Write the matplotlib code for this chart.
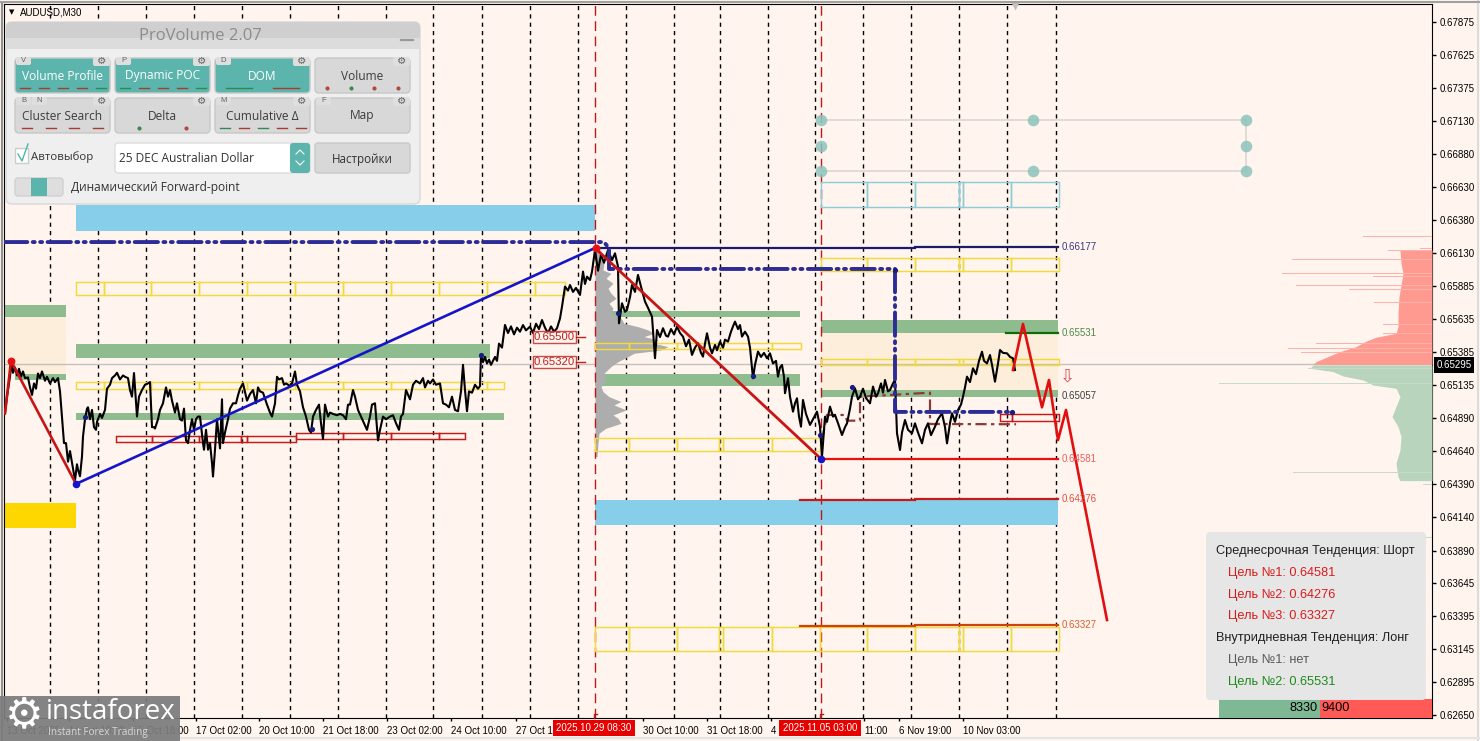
import matplotlib
matplotlib.use("Agg")
import matplotlib.pyplot as plt
from matplotlib.patches import Rectangle, FancyBboxPatch

BG = "#fff5ee"
W, H = 1480, 741

# ---- axis values
price_ticks = [0.67875, 0.67625, 0.67375, 0.67130, 0.66880, 0.66630, 0.66380, 0.66130, 0.65885, 0.65635, 0.65385,
               0.65135, 0.64890, 0.64640, 0.64390, 0.64140, 0.63890, 0.63645, 0.63395, 0.63145, 0.62895, 0.62650]
grid_x = [50, 98, 146, 194, 242, 290, 338, 386, 433, 482, 530, 578, 626, 674, 720, 768, 815, 863, 911, 959, 1007, 1056]
time_x = [7, 69, 133, 196, 259, 323, 387, 451, 516, 643, 707, 771, 864, 899, 963]
time_labels = ["13 Oct 2025", "14 Oct 10:00", "15 Oct 18:00", "17 Oct 02:00", "20 Oct 10:00", "21 Oct 18:00",
               "23 Oct 02:00", "24 Oct 10:00", "27 Oct 18:00", "30 Oct 10:00", "31 Oct 18:00", "4", "11:00",
               "6 Nov 19:00", "10 Nov 03:00"]
last_price = 0.65295

# ---- price line
line_x = [5, 7, 10, 11.5, 13, 15, 17, 19, 21, 23, 25, 28, 30, 32, 34, 36, 38, 40, 42, 45, 47, 50, 53, 55, 58, 60, 62,
          64, 66, 68, 70, 72, 75, 77, 78, 80, 82, 83, 85, 87, 88, 90, 92, 94, 96, 97, 100, 102, 105, 107, 110, 112,
          115, 117, 120, 123, 125, 128, 130, 132, 134, 137, 139, 142, 145, 148, 150, 152, 154, 155, 158, 160, 163,
          166, 168, 170, 172, 175, 177, 180, 182, 184, 186, 188, 190, 192, 194, 196, 198, 200, 203, 204, 206, 208,
          210, 212, 213, 215, 217, 220, 222, 223, 225, 228, 230, 233, 236, 238, 240, 243, 247, 250, 253, 256, 258,
          260, 263, 267, 270, 272, 275, 277, 279, 282, 284, 286, 290, 292, 295, 297, 300, 303, 306, 309, 311, 313,
          316, 319, 321, 323, 325, 328, 330, 333, 337, 340, 343, 346, 348, 350, 353, 355, 358, 361, 364, 367, 370,
          372, 375, 378, 380, 383, 386, 390, 393, 396, 399, 401, 403, 406, 410, 413, 416, 420, 423, 425, 428, 430,
          433, 436, 440, 443, 446, 449, 452, 455, 458, 461, 463, 465, 467, 469, 472, 475, 478, 480, 481, 483, 485,
          487, 489, 491, 493, 495, 497, 499, 502, 505, 508, 511, 514, 517, 520, 523, 526, 530, 533, 536, 539, 542,
          545, 548, 551, 554, 557, 560, 562, 565, 568, 570, 573, 576, 580, 583, 585, 587, 590, 592, 595, 598, 601,
          604, 608, 612, 615, 618, 619, 622, 625, 627, 630, 632, 635, 638, 641, 645, 648, 652, 655, 657, 660, 663,
          666, 668, 671, 674, 677, 680, 683, 686, 689, 692, 695, 698, 701, 703, 705, 707, 710, 712, 715, 717, 720,
          723, 725, 728, 731, 733, 735, 738, 740, 742, 745, 748, 750, 753, 755, 758, 761, 764, 767, 770, 773, 776,
          778, 780, 782, 784, 785, 787, 788, 790, 793, 795, 797, 799, 801, 803, 806, 810, 813, 817, 820, 822, 825,
          827, 830, 833, 835, 838, 842, 845, 847, 850, 852, 855, 858, 860, 863, 866, 870, 873, 876, 878, 881, 883,
          885, 888, 890, 893, 895, 897, 900, 902, 905, 908, 912, 915, 918, 922, 925, 928, 931, 935, 938, 942, 945,
          947, 950, 952, 955, 958, 961, 963, 965, 967, 970, 973, 976, 979, 982, 984, 987, 990, 992, 995, 998, 1000,
          1003, 1007, 1010, 1013, 1015]
line_p = [.64925, .65051, .65202, .65315, .65230, .65270, .65210, .65260, .65200, .65240, .65190, .65195, .65120, .65063,
          .65150, .65110, .65225, .65190, .65240, .65170, .65200, .65150, .65190, .65160, .65190, .65090, .64900,
          .64700, .64700, .64560, .64640, .64550, .64420, .64540, .64500, .64450, .64600, .64750, .64880, .64960,
          .64970, .64880, .64950, .64820, .64800, .64860, .64920, .64890, .64950, .65110, .65140, .65190, .65210,
          .65230, .65180, .65210, .65200, .65190, .65100, .65050, .65228, .64900, .65050, .65100, .65140, .65150,
          .65160, .64820, .64820, .64810, .64880, .64950, .65000, .65120, .65050, .65100, .65020, .64930, .65000,
          .64880, .64870, .64960, .64720, .64700, .64800, .64880, .64800, .64880, .64900, .64900, .64700, .64650,
          .64800, .64650, .64700, .64550, .64448, .64650, .64880, .64660, .65030, .64700, .64780, .64880, .64960,
          .65000, .65000, .65060, .65110, .65150, .65020, .65070, .65100, .65000, .65120, .65090, .65080, .64990,
          .64930, .64900, .65000, .65200, .65180, .65190, .65140, .65150, .65130, .65150, .65240, .65140, .65090,
          .64970, .64900, .64800, .64780, .64900, .64950, .64990, .64850, .64730, .64990, .64900, .64930, .64920,
          .64910, .64920, .64910, .64880, .64990, .64990, .65100, .65050, .64950, .64900, .64850, .64800, .64900,
          .64990, .65000, .64720, .64800, .64900, .64880, .64900, .64910, .64850, .64800, .64900, .64920, .65100,
          .65030, .65140, .65170, .65150, .65190, .65120, .65170, .65150, .65180, .65140, .65150, .65000, .64990,
          .64970, .65050, .64950, .64940, .65090, .65290, .65100, .64940, .65090, .65080, .65140, .65110, .65130,
          .65365, .65310, .65350, .65300, .65330, .65290, .65320, .65350, .65320, .65450, .65420, .65591, .65530,
          .65580, .65520, .65570, .65540, .65590, .65550, .65578, .65530, .65600, .65560, .65628, .65570,
          .65528, .65580, .65540, .65566, .65640, .65729, .65880, .65850, .65892, .65840, .65870, .65817, .65993,
          .65900, .65955, .65930, .65993, .66156, .66000, .66120, .66060, .66156, .66080, .66131, .66031, .65603,
          .65754, .65690, .65704, .65800, .65892, .65840, .65968, .65880, .65767, .65720, .65654, .65340, .65553,
          .65500, .65566, .65510, .65503, .65560, .65520, .65578, .65530, .65503, .65430, .65480, .65365, .65420,
          .65453, .65380, .65352, .65450, .65528, .65420, .65377, .65440, .65400, .65465, .65420, .65480, .65465,
          .65540, .65580, .65616, .65560, .65590, .65503, .65540, .65503, .65420, .65189, .65290, .65390, .65350,
          .65380, .65340, .65377, .65300, .65320, .65201, .65270, .65289, .65200, .65076, .65150, .65189, .65050,
          .64937, .65000, .65038, .64900, .64824, .65025, .64920, .64837, .64880, .64937, .64824, .64598, .64899,
          .64860, .64975, .64900, .64912, .64850, .64761, .64820, .64849, .64960, .65050, .65113, .65030, .65050,
          .65110, .65040, .65000, .65126, .65050, .65075, .65150, .65080, .65176, .65090, .65100, .65150, .65176,
          .64774, .64648, .64780, .64874, .64800, .64774, .64849, .64780, .64698, .64800, .64849, .64760, .64824,
          .64880, .64925, .64820, .64698, .64850, .64925, .64860, .64950, .64990, .65050, .65120, .65201, .65160,
          .65264, .65220, .65320, .65389, .65320, .65301, .65364, .65290, .65163, .65300, .65402, .65380, .65377,
          .65350, .65339, .65251]

dot_x = [85, 312, 481, 618, 753, 820, 852, 1012, 895]
dot_p = [.64899, .64808, .65365, .65681, .65205, .64761, .65123, .64935, .66005]

# ---- zones (x from, x to, low, high)
blue_zones = [(76, 595, .66299, .66495), (595, 1058, .64083, .64271)]
green_zones = [(4, 66, .65651, .65741), (15, 66, .65176, .65221), (76, 490, .65342, .65447), (76, 504, .64874, .64927),
               (595, 800, .65651, .65696), (595, 800, .65131, .65221), (821, 1058, .65530, .65628),
               (821, 1058, .65048, .65100)]
beige_zones = [(4, 66, .65221, .65651), (821, 1058, .65100, .65530)]
gold_zones = [(4, 76, .64060, .64248)]

# ---- box rows
yellow_rows = [([76, 104, 151, 199, 247, 295, 343, 391, 439, 487, 535, 565], .65817, .65915),
               ([76, 104, 151, 199, 241, 247, 295, 343, 391, 439, 487, 504], .65108, .65161),
               ([595, 629, 677, 719, 723, 772, 801], .65410, .65455),
               ([595, 629, 677, 719, 723, 772, 820], .64641, .64739),
               ([821, 867, 915, 959, 963, 1011, 1059], .65998, .66096),
               ([821, 867, 915, 959, 963, 1011, 1059], .65289, .65334),
               ([595, 629, 677, 719, 723, 772, 820, 867, 915, 959, 963, 1011, 1059], .63133, .63314)]
red_rows = [([116, 152, 199, 241, 247, 296], .64708, .64754),
            ([296, 343, 391, 439, 465], .64731, .64776),
            ([1000, 1012, 1059], .64867, .64920)]
cyan_rows = [([821, 867, 915, 959, 963, 1011, 1059], .66480, .66669)]

# ---- wave lines
wave1_x, wave1_p = [5, 11, 76], [.64925, .65319, .64392]
wave2_x, wave2_p = [76, 595], [.64392, .66171]
wave3_x, wave3_p = [595, 821], [.66171, .64581]
forecast_x = [1013, 1023, 1042, 1049, 1058, 1066, 1107]
forecast_p = [.65251, .65598, .64970, .65176, .64723, .64950, .63366]
poc_x = [4, 604, 609, 609, 895, 895, 1012]
poc_p = [.66216, .66216, .66170, .66013, .66013, .64935, .64935]
dom_x = [822, 827, 845, 847, 860, 860, 930, 930, 1016]
dom_p = [.64724, .64912, .64912, .64869, .64869, .65050, .65080, .64844, .64842]

levels = [(595, 915, .66170, "#1a1a6e"), (915, 1058, .66177, "#1a1a6e"), (1006, 1058, .65531, "#0b6e0b"),
          (821, 1058, .64581, "#e81010"), (800, 915, .64270, "#c81818"), (915, 1058, .64276, "#c81818"),
          (800, 915, .63320, "#d04010"), (915, 1058, .63327, "#d04010")]
level_text = [(1062, .66177, "0.66177", "#3a3a80"), (1062, .65531, "0.65531", "#4a8a4a"),
              (1062, .65057, "0.65057", "#404040"), (1062, .64581, "0.64581", "#e86060"),
              (1062, .64276, "0.64276", "#e05040"), (1062, .63327, "0.63327", "#d86030")]

handle_x = [821, 821, 821, 1033, 1033, 1246, 1246, 1246]
handle_p = [.67136, .66944, .66752, .67136, .66752, .67136, .66944, .66752]

# ---- session profile next to 29 Oct
prof_p = [.66156, .66106, .66056, .66005, .65980, .65943, .65905, .65867, .65830, .65792, .65754, .65716, .65679,
          .65641, .65603, .65578, .65553, .65528, .65503, .65478, .65453, .65427, .65402, .65377, .65352, .65314,
          .65277, .65226, .65176, .65126, .65088, .65050, .65013, .64988, .64950, .64912, .64887, .64849, .64812,
          .64774, .64699, .64598]
prof_v = [6, 4, 9, 8, 16, 11, 18, 13, 16, 21, 14, 18, 16, 26, 29, 43, 53, 59, 49, 63, 59, 73, 66, 39, 33, 23, 16, 9,
          11, 6, 8, 14, 26, 19, 31, 18, 23, 26, 11, 4, 3, 2]

# ---- right hand profile
sell_p = [.66156, .66056, .65980, .65892, .65804, .65679, .65578, .65528, .65498, .65465, .65427, .65390, .65352,
          .65314, .65294]
sell_v = [32, 31, 29, 31, 33, 34, 34, 36, 56, 67, 76, 92, 104, 116, 119]
sell_spike_p = [.66257, .66169, .66149, .66081, .65980, .65955, .65885, .65855, .65762, .65711, .65628, .65591,
                .65553, .65528, .65453, .65415, .65382]
sell_spike_v = [69, 12, 44, 140, 150, 59, 136, 83, 58, 44, 42, 49, 187, 49, 116, 144, 131]
buy_p = [.65289, .65264, .65239, .65206, .65176, .65138, .65113, .65050, .64975, .64900, .64824, .64749, .64648,
         .64548, .64447, .64417]
buy_v = [119, 122, 99, 89, 69, 59, 36, 32, 36, 40, 34, 31, 32, 36, 34, 32]
buy_spike_p = [.65264, .65206, .65151, .65025, .64480, .64385, .63985, .63871, .63087]
buy_spike_v = [124, 133, 213, 48, 139, 9, 200, 12, 8]

buy_total, sell_total = 8330, 9400

# ---- figure
fig = plt.figure(figsize=(W / 100, H / 100), dpi=100, facecolor=BG)
plt.rcParams["font.family"] = ["Liberation Sans", "DejaVu Sans"]

ax = fig.add_axes([4 / W, (H - 718) / H, 1428 / W, 714 / H], facecolor=BG)
ax.set_xlim(4, 1432)
ax.set_ylim(0.62627, 0.68011)
for s in ax.spines.values():
    s.set_color("black")
ax.yaxis.tick_right()
ax.set_yticks(price_ticks)
ax.set_yticklabels(["%.5f" % p for p in price_ticks])
ax.set_xticks(time_x)
ax.set_xticklabels(time_labels)
plt.setp(ax.get_xticklabels(), ha="left")
ax.tick_params(axis="y", length=3, width=1, pad=2.5, labelsize=7)
ax.tick_params(axis="x", length=2, width=1, pad=3.5, labelsize=7)

for x in grid_x:
    ax.axvline(x, color="black", lw=1, dashes=(3, 3), zorder=1)


def zones(items, color, z=2):
    for x0, x1, lo, hi in items:
        ax.add_patch(Rectangle((x0, lo), x1 - x0, hi - lo, fc=color, ec="none", zorder=z))


def box_row(edges, lo, hi, color):
    for x0, x1 in zip(edges[:-1], edges[1:]):
        ax.add_patch(Rectangle((x0, lo), x1 - x0, hi - lo, fc="none", ec=color, lw=1.05, zorder=5))


zones(beige_zones, "#fdeedb", 1.5)
zones(blue_zones, "#87ceeb")
zones(green_zones, "#8fbc8f")
zones(gold_zones, "#ffd700")

ax.fill_betweenx(prof_p, 595, [595 + v for v in prof_v], color="#adadad", lw=0, zorder=3)

# right profile
ax.fill_betweenx(sell_p, [1432 - v for v in sell_v], 1432, color="#ff9a90", lw=0, zorder=3)
ax.barh(sell_spike_p, [-v for v in sell_spike_v], left=1432, height=.00007, color="#ffb0a8", lw=0, zorder=3)
ax.fill_betweenx(buy_p, [1432 - v for v in buy_v], 1432, color="#b8d4bc", lw=0, zorder=3)
ax.barh(buy_spike_p, [-v for v in buy_spike_v], left=1432, height=.00007, color="#c4dcc8", lw=0, zorder=3)

ax.axhline(last_price, color="#c4c0c0", lw=1, zorder=2.5)
for x in [595, 821]:
    ax.axvline(x, color="#c01818", lw=1, dashes=(7, 4), zorder=4)

for edges, lo, hi in yellow_rows:
    box_row(edges, lo, hi, "#f2d93c")
for edges, lo, hi in red_rows:
    box_row(edges, lo, hi, "#c41a1a")
for edges, lo, hi in cyan_rows:
    box_row(edges, lo, hi, "#90ccd8")

# selection frame
ax.plot([821, 1246, 1246, 821], [.67136, .67136, .66752, .66752], color="#d8d3cf", lw=1.1, zorder=4)
ax.scatter(handle_x, handle_p, s=70, color="#8cc4bc", alpha=.85, lw=0, zorder=6)

ax.plot(dom_x, dom_p, color="#8b3a3a", lw=1.6, dashes=(5, 2, 1.5, 2), zorder=6)
ax.plot(line_x, line_p, color="black", lw=1.5, zorder=7)
ax.scatter(dot_x, dot_p, s=14, color="#1a1a80", lw=0, zorder=8)
ax.plot(poc_x, poc_p, color="#2c2c96", lw=2.8, dashes=(6, 1.4, .5, 1.4, .5, 1.4), dash_capstyle="round", zorder=7.5)

for x0, x1, p, c in levels:
    ax.plot([x0, x1], [p, p], color=c, lw=1.6, zorder=6.5)
for x, p, t, c in level_text:
    ax.text(x, p, t, color=c, fontsize=7, va="center", zorder=9)

ax.plot(wave1_x, wave1_p, color="#c81414", lw=1.9, zorder=8)
ax.plot(wave2_x, wave2_p, color="#1414c8", lw=1.9, zorder=8)
ax.plot(wave3_x, wave3_p, color="#c81414", lw=2, zorder=8)
ax.plot(forecast_x, forecast_p, color="#e01010", lw=1.9, zorder=8)
ax.scatter([11, 596], [.65319, .66171], s=32, color="#e81010", lw=0, zorder=9)
ax.scatter([76, 821], [.64392, .64581], s=30, color="#1414c8", lw=0, zorder=9)
ax.text(1067, .65205, "⇩", color="#e85050", fontsize=13, ha="center", va="center", family="DejaVu Sans", zorder=9)

for p, t in [(.65500, "0.65500"), (.65312, "0.65320")]:
    ax.text(554.5, p, t, color="#c02020", fontsize=8.2, ha="center", va="center", zorder=8.5,
            bbox=dict(boxstyle="square,pad=0.12", fc=BG, ec="#c02020", lw=1, alpha=.8))
    ax.plot([576, 585], [p, p], color="#c02020", lw=1, zorder=8.5)

# bar with totals
ax.barh(.62627, -buy_total * .0121, left=1320, height=.00143, align="edge", color="#7fb894", lw=0, zorder=10)
ax.barh(.62627, sell_total * .0119, left=1320, height=.00143, align="edge", color="#ff5a55", lw=0, zorder=10)
ax.text(1318, .62700, str(buy_total), fontsize=9.2, ha="right", va="center", zorder=11)
ax.text(1321, .62700, str(sell_total), fontsize=9.2, ha="left", va="center", zorder=11)

# ---- overlay in picture pixels for panel, labels and logo
ui = fig.add_axes([0, 0, 1, 1], facecolor="none")
ui.set_xlim(0, W)
ui.set_ylim(H, 0)
ui.axis("off")


def rbox(x0, y0, x1, y1, fc, ec="none", r=3, z=3, alpha=None, lw=1):
    ui.add_patch(FancyBboxPatch((x0 + r, y0 + r), x1 - x0 - 2 * r, y1 - y0 - 2 * r,
                                boxstyle="round,pad=%f,rounding_size=%f" % (r, r),
                                fc=fc, ec=ec, lw=lw, zorder=z, alpha=alpha))


# frame
ui.plot([1478, 1478], [0, 741], color="#dcdcdc", lw=1.5)
ui.plot([0, 1480], [738, 738], color="#e4e4e4", lw=1.5)
ui.plot([2, 2], [3, 741], color="#909090", lw=1.5)
ui.plot([0, 1480], [2, 2], color="#a0a0a0", lw=1.5)
ui.text(12, 12.5, "▼", fontsize=5, ha="center", va="center", family="DejaVu Sans")
ui.text(20, 12.5, "AUDUSD,M30", fontsize=7, va="center")
ui.scatter([1015], [6], marker="v", s=35, color="#c4bfb8", lw=0)

# last price and date flags
ui.text(1454, 365, "0.65295", color="white", fontsize=7, ha="center", va="center",
        bbox=dict(boxstyle="square,pad=0.3", fc="black", ec="none"))
for x, t in [(594, "2025.10.29 08:30"), (820, "2025.11.05 03:00")]:
    ui.text(x, 728, t, color="white", fontsize=7, ha="center", va="center",
            bbox=dict(boxstyle="square,pad=0.35", fc="#e60000", ec="none"), zorder=3)
    ui.plot([x, x, x + 3], [718, 714, 714], color="#c01818", lw=1)

# info box
rbox(1206, 532, 1426, 700, "#e6e6e6", z=4, r=4, alpha=.97)
info = [(1216, 551, "Среднесрочная Тенденция: Шорт", "#202020"),
        (1228, 573, "Цель №1: 0.64581", "#d81c1c"),
        (1228, 595, "Цель №2: 0.64276", "#d81c1c"),
        (1228, 616, "Цель №3: 0.63327", "#d81c1c"),
        (1216, 638, "Внутридневная Тенденция: Лонг", "#202020"),
        (1228, 660, "Цель №1: нет", "#5a5a5a"),
        (1228, 682, "Цель №2: 0.65531", "#1c8a1c")]
for x, y, t, c in info:
    ui.text(x, y, t, color=c, fontsize=9.15, va="center", zorder=5)

# panel
panel_font = ["Open Sans", "DejaVu Sans"]
rbox(6, 22, 420, 204, "#efefef", ec="#d8d8d8", r=6, z=6)
rbox(6, 22, 420, 49, "#cfcfcf", r=6, z=6.1)
ui.add_patch(Rectangle((6, 38), 414, 11, fc="#dcdcdc", ec="none", zorder=6.15))
ui.text(200, 36, "ProVolume 2.07", color="#8c8c8c", fontsize=12, ha="center", va="center", family=panel_font, zorder=7)
ui.plot([401, 413], [40, 40], color="#999999", lw=1.6, zorder=7)

buttons = [(15, 58, "Volume Profile", True, ["V"], "rrrrg"),
           (115, 58, "Dynamic POC", True, ["P"], "grrrg"),
           (215, 58, "DOM", True, ["D"], "gr"),
           (315, 58, "Volume", False, [], "RGRR"),
           (15, 98, "Cluster Search", False, ["B", "N"], "rrrr"),
           (115, 98, "Delta", False, [], "GR"),
           (215, 98, "Cumulative Δ", False, ["M"], "grgrr"),
           (315, 98, "Map", False, ["F"], "")]
marks = {"r": "#a83a30", "g": "#2e8b50", "R": "#b04a40", "G": "#3c8a50"}
for x, y, name, on, tabs, strip in buttons:
    rbox(x, y, x + 95, y + 35, "#5bb5ad" if on else "#d8d8d8", ec="#c8c8c8", r=4, z=7)
    ui.text(x + 47.5, y + 18, name, color="white" if on else "#3c3c3c", fontsize=8.6, ha="center", va="center",
            family=panel_font, zorder=8)
    rbox(x + 78, y - 1, x + 95, y + 8, "#dedede", r=2, z=8)
    ui.text(x + 87, y + 3.5, "⚙", color="#606060", fontsize=7.5, ha="center", va="center", family="DejaVu Sans", zorder=8.2)
    for k, tab in enumerate(tabs):
        rbox(x + 1 + k * 16, y - 1, x + 16 + k * 16, y + 7, "#dedede", r=2, z=8)
        ui.text(x + 8.5 + k * 16, y + 3, tab, color="#606060", fontsize=5.5, ha="center", va="center", zorder=8.2)
    n = len(strip)
    for k, m in enumerate(strip):
        cx = x + 95 * (k + .5) / n
        if m in "RG":
            ui.scatter([cx], [y + 30], s=9, color=marks[m], lw=0, zorder=8.2)
        else:
            half = 5 if n > 2 else 13
            ui.plot([cx - half, cx + half], [y + 30, y + 30], color=marks[m], lw=1, zorder=8.2)

ui.add_patch(Rectangle((15, 148), 13, 15, fc="white", ec="#cccccc", lw=1, zorder=7))
ui.plot([18, 22, 28], [154, 161, 144], color="#4db6ac", lw=1, zorder=8)
ui.text(31, 157, "Автовыбор", color="#333333", fontsize=8.2, va="center", family=panel_font, zorder=8)
rbox(115, 143, 310, 173, "white", ec="#dddddd", r=3, z=7)
rbox(290, 143, 310, 173, "#5bb5ad", r=3, z=7.5)
ui.text(119, 159, "25 DEC Australian Dollar", color="#333333", fontsize=8.6, va="center", family=panel_font, zorder=8)
ui.plot([296, 300, 304], [154, 150, 154], color="white", lw=.8, zorder=8)
ui.plot([296, 300, 304], [161, 165, 161], color="white", lw=.8, zorder=8)
rbox(315, 143, 410, 173, "#d8d8d8", ec="#c8c8c8", r=3, z=7)
ui.text(362.5, 159, "Настройки", color="#333333", fontsize=8.4, ha="center", va="center", family=panel_font, zorder=8)
rbox(15, 178, 63, 196, "#dedede", ec="#d0d0d0", r=3, z=7)
ui.add_patch(Rectangle((31, 178), 16, 18, fc="#5bb5ad", ec="none", zorder=7.5))
ui.text(71, 188, "Динамический Forward-point", color="#333333", fontsize=8.6, va="center", family=panel_font, zorder=8)

# logo
ui.add_patch(Rectangle((0, 696), 180, 45, fc="#7c7c7c", ec="none", alpha=.93, zorder=10))
ui.text(24, 715, "⚙", color="white", fontsize=31, ha="center", va="center", family="DejaVu Sans", zorder=11)
ui.text(46, 712, "instaforex", color="white", fontsize=20, va="center", family=panel_font, zorder=11)
ui.text(48, 732, "Instant Forex Trading", color="#d8d8d8", fontsize=7.2, va="center", family=panel_font, zorder=11)

fig.savefig("out.png", dpi=100, facecolor=BG)
